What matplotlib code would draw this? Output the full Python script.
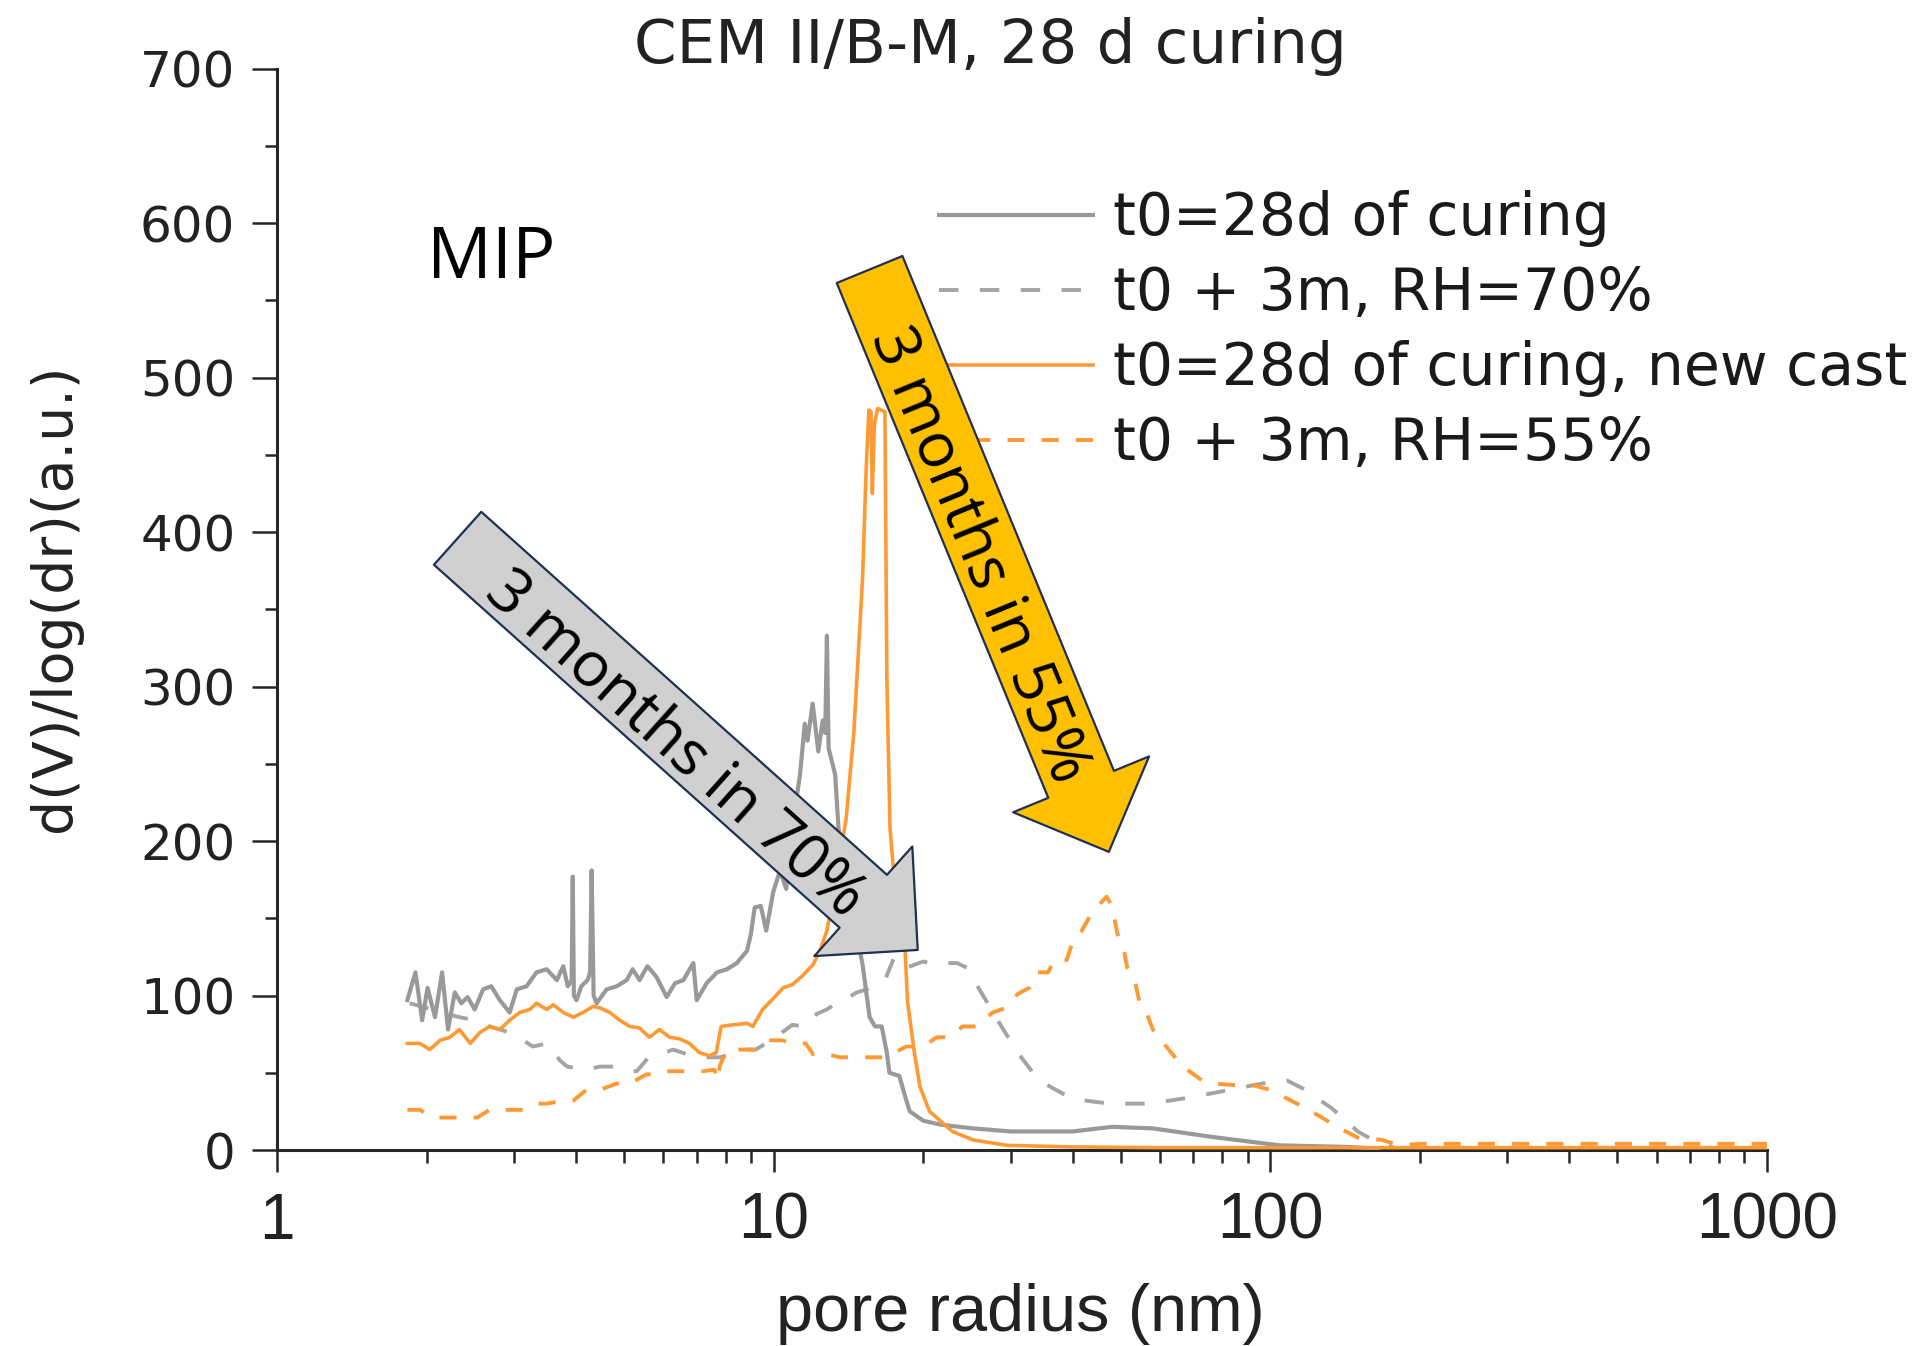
import numpy as np
import matplotlib
matplotlib.use('Agg')
import matplotlib.pyplot as plt
from matplotlib.patches import ArrowStyle
from matplotlib.ticker import MultipleLocator, NullFormatter

W, H = 1915, 1346

# t0=28d of curing (grey solid)
gs_x = [1.83, 1.90, 1.96, 2.01, 2.08, 2.15, 2.21, 2.28, 2.35, 2.42, 2.50, 2.60, 2.70, 2.81,
        2.94, 3.04, 3.18, 3.33, 3.49, 3.66, 3.77, 3.85, 3.92, 3.94, 3.96, 4.01, 4.10, 4.22,
        4.27, 4.30, 4.34, 4.40, 4.61, 4.83, 5.06, 5.20, 5.37, 5.57, 5.81, 6.09, 6.33, 6.58,
        6.89, 7.00, 7.33, 7.69, 8.05, 8.43, 8.84, 9.00, 9.16, 9.42, 9.66, 9.98, 10.3, 10.6,
        10.9, 11.3, 11.55, 11.7, 11.98, 12.3, 12.55, 12.7, 12.8, 12.9, 13.3, 13.5, 13.8, 14.2,
        14.7, 15.1, 15.6, 16.0, 16.5, 16.9, 17.1, 17.9, 18.5, 18.8, 20.0, 21.6, 25.2, 30, 40,
        48, 58, 76.6, 104.5, 142, 165]
gs_y = [97, 115, 84, 105, 86, 115, 78, 102, 95, 99, 91, 104, 106, 97,
        89, 104, 106, 115, 117, 110, 119, 106, 110, 177, 100, 97, 106, 110,
        115, 181, 100, 95, 104, 106, 110, 117, 110, 119, 112, 99, 108, 110,
        121, 97, 108, 115, 117, 121, 129, 140, 157, 158, 142, 167, 181, 169,
        209, 243, 276, 265, 289, 258, 278, 270, 333, 260, 243, 209, 187, 160,
        140, 120, 86, 80, 80, 63, 50, 48, 32, 25, 19, 16.5, 14, 12, 12,
        15, 14, 8.4, 3, 2, 1]

# t0 + 3m, RH=70% (grey dashed)
gd_x = [1.85, 2.0, 2.2, 2.33, 2.5, 2.68, 2.81, 2.94, 3.1, 3.27, 3.51, 3.71, 3.84, 4.2,
        4.47, 4.75, 5.06, 5.3, 5.6, 5.9, 6.27, 6.7, 7.2, 7.8, 8.3, 8.7, 9.2, 10.0, 10.9,
        11.6, 12.2, 12.8, 13.5, 14.0, 14.7, 15.4, 16.1, 16.8, 17.5, 18.5, 20, 21.3, 22.3,
        23.4, 24.5, 25.2, 26.4, 28.5, 31, 34.2, 40, 47.5, 57, 69, 83, 99.8, 108, 116,
        133, 150, 166, 180]
gd_y = [95, 92, 88, 86, 84, 80, 78, 76, 72, 67, 69, 58, 54, 52,
        54, 54, 51, 51, 60, 62, 65, 62, 60, 60, 62, 65, 65, 72, 81,
        80, 88, 91, 96, 98, 102, 104, 109, 111, 125, 118, 122, 120, 121,
        121, 118, 111, 100, 82, 63, 45, 33, 30, 30, 34, 39, 44, 45, 40,
        27, 12, 4, 1]

# t0=28d of curing, new cast (orange solid)
os_x = [1.83, 1.94, 2.03, 2.13, 2.23, 2.33, 2.45, 2.56, 2.68, 2.81, 2.94, 3.08, 3.23, 3.33,
        3.49, 3.60, 3.77, 3.95, 4.13, 4.33, 4.47, 4.68, 4.90, 5.13, 5.37, 5.62, 5.89, 6.17,
        6.46, 6.77, 7.09, 7.43, 7.66, 7.84, 8.27, 8.84, 9.08, 9.5, 9.98, 10.45, 10.9, 11.45,
        12.0, 12.4, 12.8, 13.2, 13.6, 14.0, 14.5, 15.1, 15.35, 15.55, 15.7, 15.8, 15.95, 16.2,
        16.75, 16.9, 17.15, 17.6, 18.0, 18.4, 18.6, 19.2, 19.7, 20.6, 22.9, 25.2,
        29.5, 40, 60, 100, 200, 500, 1000]
os_y = [69, 69, 65, 71, 73, 78, 69, 76, 80, 78, 84, 89, 91, 95,
        91, 94, 89, 86, 89, 93, 92, 89, 84, 80, 79, 73, 78, 73,
        72, 69, 63, 61, 63, 80, 81, 82, 80, 91, 98, 105, 107, 113,
        120, 129, 142, 165, 190, 215, 270, 370, 440, 479, 478, 425, 470, 480,
        478, 305, 208, 165, 140, 128, 96, 63, 41, 25, 12, 6.5,
        3, 2, 1.5, 1.5, 1.5, 1.5, 1.5]

# t0 + 3m, RH=55% (orange dashed)
od_x = [1.83, 1.94, 2.06, 2.2, 2.33, 2.53, 2.68, 2.81, 2.98, 3.13, 3.33, 3.49, 3.77, 3.95,
        4.2, 4.47, 4.83, 5.13, 5.55, 5.9, 6.1, 6.4, 6.88, 7.2, 7.6, 7.7, 7.8, 8.05, 8.43,
        8.85, 9.25, 9.7, 10.4, 10.9, 11.6, 12.0, 12.8, 13.6, 14.4, 15.8, 16.8, 18.5, 20,
        21.3, 22.6, 24, 25.6, 27.6, 29.3, 31, 32.7, 34, 35.7, 36.7, 38.9, 40, 41.4, 43.6,
        45, 46.8, 48, 49.2, 50.6, 51.5, 53.4, 54.5, 56.6, 58, 61, 65, 68, 72.9, 77, 84.9,
        92, 99.8, 107, 118, 127, 138, 150, 168, 182, 200, 300, 500, 1000]
od_y = [26, 26, 21, 21, 21, 21, 26, 26, 26, 26, 30, 30, 32, 32,
        39, 39, 43, 43, 49, 49, 51, 51, 51, 51, 52, 45, 55, 65, 65,
        65, 65, 71, 71, 69, 69, 62, 62, 60, 60, 60, 60, 67, 67,
        73, 73, 80, 80, 89, 92, 101, 105, 115, 115, 123, 123, 135, 140, 153,
        158, 164, 158, 140, 131, 118, 109, 96, 87, 78, 69, 58, 52, 45, 43, 42,
        42, 39, 34, 27, 21, 14, 8, 6.5, 3, 4, 4, 4, 4]

labels = ['t0=28d of curing', 't0 + 3m, RH=70%', 't0=28d of curing, new cast', 't0 + 3m, RH=55%']

# annotation arrows: (tail, tip) in data units, label text centre
arrow_gray = [(2.31, 396), (19.5, 129.5)]
arrow_gold = [(15.6, 570), (47.3, 193)]
text_gray = (6.3, 262)
text_gold = (25.8, 385)

fig = plt.figure(figsize=(W / 100, H / 100), dpi=100)
ax = fig.add_axes([277 / W, 1 - 1150 / H, (1767 - 277) / W, (1150 - 68.7) / H])

grey = '#999999'
orange = '#ff9933'
ax.plot(gd_x, gd_y, color='#a4a4a4', lw=2.8, ls=(0, (5, 5.5)), label=labels[1], zorder=2)
ax.plot(gs_x, gs_y, color=grey, lw=3.0, label=labels[0], zorder=3)
ax.plot(od_x, od_y, color=orange, lw=2.8, ls=(0, (4.4, 4.4)), label=labels[3], zorder=3)
ax.plot(os_x, os_y, color=orange, lw=2.6, label=labels[2], zorder=4)

ax.set_xscale('log')
ax.set_xlim(1, 1000)
ax.set_ylim(0, 700)
ax.set_xticks([1, 10, 100, 1000])
ax.set_xticklabels(['1', '10', '100', '1000'])
ax.xaxis.set_minor_formatter(NullFormatter())
ax.yaxis.set_major_locator(MultipleLocator(100))
ax.yaxis.set_minor_locator(MultipleLocator(50))

for s in ['top', 'right']:
    ax.spines[s].set_visible(False)
for s in ['left', 'bottom']:
    ax.spines[s].set_linewidth(2.2)
    ax.spines[s].set_color('#262626')

ax.tick_params(axis='y', which='major', length=18, width=1.8, pad=12, labelsize=36,
               color='#262626', labelcolor='#222222')
ax.tick_params(axis='y', which='minor', length=9, width=1.8, color='#262626')
ax.tick_params(axis='x', which='major', length=16, width=1.8, pad=14, labelsize=46,
               color='#262626', labelcolor='#222222')
ax.tick_params(axis='x', which='minor', length=9, width=1.8, color='#262626')
for t in ax.get_xticklabels():
    t.set_fontfamily('Liberation Sans')

handles, labs = ax.get_legend_handles_labels()
order = [labs.index(l) for l in labels]
leg = ax.legend([handles[i] for i in order], labels, loc='upper left',
                bbox_to_anchor=(939 / W, 1 - 190 / H), bbox_transform=fig.transFigure,
                frameon=False, fontsize=42, handlelength=2.64, handletextpad=0.34,
                labelspacing=0.31, borderpad=0, borderaxespad=0)
for t in leg.get_texts():
    t.set_color('#1a1a1a')

# block arrows
px2pt = 72 / 100
def block_arrow(tail, tip, fc):
    style = ArrowStyle.Simple(head_length=73 * px2pt, head_width=147 * px2pt,
                              tail_width=71 * px2pt)
    ax.annotate('', xy=tip, xytext=tail, xycoords='data', zorder=10,
                arrowprops=dict(arrowstyle=style, mutation_scale=1, fc=fc,
                                ec='#1f3050', lw=1.6, shrinkA=0, shrinkB=0))

def arrow_angle(tail, tip):
    a = ax.transData.transform(tail)
    b = ax.transData.transform(tip)
    return np.degrees(np.arctan2(b[1] - a[1], b[0] - a[0]))

block_arrow(*arrow_gray, '#d0d0d0')
block_arrow(*arrow_gold, '#ffc000')
ax.text(*text_gray, '3 months in 70%', rotation=arrow_angle(*arrow_gray),
        rotation_mode='anchor', ha='center', va='center', fontsize=45,
        family='Open Sans', color='black', zorder=11)
ax.text(*text_gold, '3 months in 55%', rotation=arrow_angle(*arrow_gold),
        rotation_mode='anchor', ha='center', va='center', fontsize=45,
        family='Open Sans', color='black', zorder=11)

fig.text(427 / W, 1 - 278 / H, 'MIP', fontsize=52, family='Open Sans', va='baseline')
fig.text(990 / W, 1 - 63 / H, 'CEM II/B-M, 28 d curing', ha='center', va='baseline',
         fontsize=44, color='#222222')
fig.text(1020 / W, 1 - 1331 / H, 'pore radius (nm)', ha='center', va='baseline',
         fontsize=48, family='Liberation Sans', color='#222222')
fig.text(55 / W, 1 - 598 / H, 'd(V)/log(dr)(a.u.)', rotation=90, ha='center', va='center',
         fontsize=40, color='#222222')

fig.savefig('out.png', dpi=100)
